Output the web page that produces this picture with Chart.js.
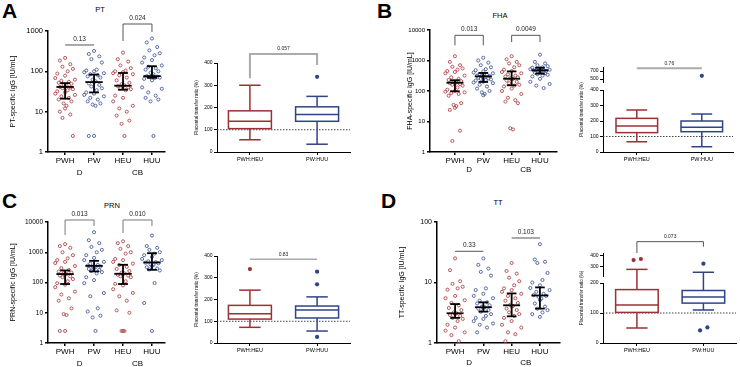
<!DOCTYPE html>
<html>
<head>
<meta charset="utf-8">
<script src="https://cdn.jsdelivr.net/npm/chart.js@4.4.1/dist/chart.umd.min.js"></script>
<style>
  body { margin: 0; width: 740px; height: 367px; background: #fff; position: relative; overflow: hidden;
         font-family: "Liberation Sans", Arial, sans-serif; color: #000; }
  canvas { position: absolute; }
  .letter { position: absolute; font-weight: bold; font-size: 21px; line-height: 1; color: #000; }
  .title { position: absolute; font-size: 7.5px; line-height: 1; color: #000; transform: translate(-50%, -50%); }
</style>
</head>
<body>
<div class="letter" style="left:2px;top:0px">A</div>
<div class="letter" style="left:377px;top:0px">B</div>
<div class="letter" style="left:2px;top:190px">C</div>
<div class="letter" style="left:381px;top:190px">D</div>
<div class="title" style="left:100px;top:10px">PT</div>
<div class="title" style="left:500px;top:16px">FHA</div>
<div class="title" style="left:112px;top:206px">PRN</div>
<div class="title" style="left:498px;top:203px">TT</div>

<canvas id="dotA" width="180" height="182" style="left:0;top:0"></canvas>
<canvas id="boxA" width="175" height="130" style="left:185px;top:40px"></canvas>
<canvas id="dotB" width="195" height="182" style="left:370px;top:0"></canvas>
<canvas id="boxB" width="170" height="125" style="left:570px;top:45px"></canvas>
<canvas id="dotC" width="180" height="182" style="left:0;top:185px"></canvas>
<canvas id="boxC" width="175" height="135" style="left:185px;top:225px"></canvas>
<canvas id="dotD" width="195" height="182" style="left:370px;top:185px"></canvas>
<canvas id="boxD" width="170" height="135" style="left:570px;top:225px"></canvas>

<script>
const FONT = '"Liberation Sans", Arial, sans-serif';
Chart.defaults.font.family = FONT;
Chart.defaults.color = '#000';

const GROUPS = ['PWH', 'PW', 'HEU', 'HUU'];
const BIRTH = ['D', 'CB'];
const RATIO_GROUPS = ['PWH:HEU', 'PW:HUU'];

// ---- PT ----
const PT_PWH = [215, 185, 150, 130, 115, 100, 88, 78, 68, 62, 58, 55, 52, 49, 46, 44, 42, 41, 40, 38, 36, 34, 32, 30, 28, 26, 24, 22, 20, 18, 16, 14, 12, 10, 8.5, 7, 2.5];
const PT_PW = [320, 270, 235, 200, 165, 110, 105, 100, 95, 90, 85, 80, 75, 70, 62, 57, 54, 50, 46, 42, 38, 34, 30, 28, 26, 24, 22, 20, 18, 16, 15, 14, 2.5, 2.5];
const PT_HEU = [290, 200, 175, 140, 120, 105, 100, 95, 90, 85, 80, 70, 60, 52, 48, 45, 44, 43, 40, 38, 36, 34, 25, 22, 18, 14, 12, 10, 8, 6, 5, 2.5];
const PT_HUU = [650, 520, 400, 330, 280, 250, 220, 190, 165, 140, 130, 120, 110, 100, 92, 85, 80, 76, 74, 72, 70, 68, 65, 60, 40, 37, 30, 25, 22, 20, 18, 2.5];
const PT_MEDIAN = [41, 54, 44, 76];
const PT_Q1 = [21, 30, 35, 69];
const PT_Q3 = [51, 83, 91, 134];
const PT_P = ['0.13', '0.024'];
// placental transfer ratio (%): min, q1, median, q3, max
const PT_RATIO_PWH_HEU = [55, 105, 138, 185, 300];
const PT_RATIO_PW_HUU = [35, 138, 168, 203, 250];
const PT_RATIO_OUT = [[], [338]];
const PT_RATIO_P = '0.057';

// ---- FHA ----
const FHA_PWH = [1380, 900, 700, 620, 550, 500, 450, 420, 380, 320, 280, 250, 230, 210, 200, 190, 185, 180, 170, 160, 150, 130, 110, 100, 95, 90, 85, 80, 70, 40, 35, 32, 28, 24, 5, 2.3];
const FHA_PW = [1230, 1000, 850, 700, 600, 520, 480, 440, 400, 380, 360, 340, 320, 310, 300, 290, 280, 270, 260, 250, 240, 230, 220, 200, 190, 180, 160, 140, 120, 100, 90, 80, 72];
const FHA_HEU = [1380, 1100, 900, 800, 700, 600, 500, 450, 420, 380, 350, 320, 300, 280, 260, 250, 240, 220, 200, 180, 160, 150, 140, 120, 100, 80, 60, 50, 45, 40, 6, 5.5];
const FHA_HUU = [1550, 900, 800, 700, 650, 600, 580, 550, 520, 500, 490, 480, 470, 460, 450, 440, 420, 400, 380, 360, 340, 320, 300, 250, 200, 170, 150, 125];
const FHA_MEDIAN = [187, 303, 253, 477];
const FHA_Q1 = [98, 198, 154, 370];
const FHA_Q3 = [225, 390, 440, 580];
const FHA_P = ['0.013', '0.0049'];
const FHA_RATIO_PWH_HEU = [66, 125, 168, 217, 271];
const FHA_RATIO_PW_HUU = [34, 131, 159, 200, 245];
const FHA_RATIO_OUT = [[], [580]];
const FHA_RATIO_P = '0.76';

// ---- PRN ----
const PRN_PWH = [1850, 1600, 1400, 1000, 800, 630, 550, 480, 440, 350, 300, 260, 230, 210, 200, 190, 180, 170, 160, 150, 130, 110, 95, 85, 70, 50, 40, 30, 25, 14, 9, 8.4, 2.5, 2.5];
const PRN_PW = [4600, 2500, 2000, 1500, 1200, 1000, 800, 650, 550, 480, 420, 380, 360, 340, 330, 320, 300, 280, 260, 240, 220, 200, 150, 120, 95, 45, 35, 14, 11, 8, 7, 2.5];
const PRN_HEU = [2300, 2000, 1600, 1300, 1000, 900, 600, 550, 480, 420, 380, 330, 280, 240, 210, 200, 190, 180, 170, 160, 150, 110, 90, 80, 60, 45, 35, 25, 12, 10, 2.5, 2.5, 2.5];
const PRN_HUU = [3560, 1600, 1400, 1200, 1000, 900, 800, 700, 600, 550, 500, 470, 450, 430, 400, 380, 350, 320, 290, 270, 250, 96, 21, 2.5];
const PRN_MEDIAN = [190, 355, 194, 460];
const PRN_Q1 = [89, 233, 89, 263];
const PRN_Q3 = [250, 520, 385, 930];
const PRN_P = ['0.013', '0.010'];
const PRN_RATIO_PWH_HEU = [72, 110, 135, 173, 243];
const PRN_RATIO_PW_HUU = [55, 115, 152, 170, 212];
const PRN_RATIO_OUT = [[340], [328, 270, 28]];
const PRN_RATIO_P = '0.83';

// ---- TT ----
const TT_PWH = [25, 16, 10.5, 9.5, 8.5, 8, 7.6, 6, 5.5, 5.1, 4.6, 4.2, 3.8, 3.5, 3.2, 3.1, 3.0, 2.9, 2.8, 2.6, 2.5, 2.3, 2.0, 1.8, 1.6, 1.5, 1.35, 1.07];
const TT_PW = [25, 19.6, 17, 15, 13, 8, 7.5, 6.5, 6, 5.5, 5.0, 4.7, 4.5, 4.2, 4.0, 3.9, 3.8, 3.7, 3.5, 3.3, 3.0, 2.8, 2.6, 2.5, 2.3, 2.1, 2.0, 1.8, 1.5];
const TT_HEU = [21, 15.5, 14, 12, 10.5, 9, 8, 7.5, 7, 6.5, 6, 5.5, 5, 4.6, 4.3, 4.1, 4.0, 3.7, 3.5, 3.2, 3.0, 2.8, 2.6, 2.3, 2.0, 1.8, 1.5, 1.4, 1.07];
const TT_HUU = [43, 24, 22, 21, 14.4, 11, 10, 9, 8.1, 7.5, 7, 6.5, 6.2, 6, 5.8, 5.4, 5.1, 4.5, 4.0, 3.7, 3.5, 3.2, 3.0, 2.7];
const TT_MEDIAN = [3.1, 3.9, 4.2, 6.1];
const TT_Q1 = [2.6, 3.3, 2.76, 3.7];
const TT_Q3 = [4.4, 4.7, 6.6, 8.3];
const TT_P = ['0.33', '0.103'];
const TT_RATIO_PWH_HEU = [50, 102, 127, 178, 275];
const TT_RATIO_PW_HUU = [110, 133, 153, 175, 248];
const TT_RATIO_OUT = [[362, 372], [328, 42, 52]];
const TT_RATIO_P = '0.073';

// horizontal spread of the dots inside a column (category units)
const JITTER = [0, -0.18, 0.18, -0.09, 0.27, 0.09, -0.27, 0, -0.34, 0.34, -0.13, 0.13, -0.22, 0.22, -0.05, 0.05];

const RED = '#b04a4d';
const BLUE = '#4b5d9d';
const BOX_RED = '#9c3034';
const BOX_BLUE = '#2f4487';

function seg(ctx, x1, y1, x2, y2) {
  ctx.beginPath();
  ctx.moveTo(x1, y1);
  ctx.lineTo(x2, y2);
  ctx.stroke();
}

function drawBrackets(ctx, x, yp, list) {
  list.forEach(b => {
    const X1 = x.getPixelForValue(b.x1), X2 = x.getPixelForValue(b.x2), Y = yp(b.y);
    ctx.strokeStyle = b.color;
    ctx.lineWidth = b.width;
    ctx.beginPath();
    if (b.legs) {
      ctx.moveTo(X1, yp(b.legs[0]));
      ctx.lineTo(X1, Y);
      ctx.lineTo(X2, Y);
      ctx.lineTo(X2, yp(b.legs[1]));
    } else {
      ctx.moveTo(X1, Y);
      ctx.lineTo(X2, Y);
    }
    ctx.stroke();
    ctx.fillStyle = '#222';
    ctx.font = b.size + 'px ' + FONT;
    ctx.textAlign = 'center';
    ctx.textBaseline = 'bottom';
    ctx.fillText(b.text, (X1 + X2) / 2, Y - 2.5);
  });
}

function dotAnnot(med, q1, q3, brackets, birthDy) {
  return {
    id: 'dotAnnot',
    afterDatasetsDraw(chart) {
      const { ctx, chartArea: a, scales: { x, y } } = chart;
      ctx.save();
      ctx.strokeStyle = '#000';
      ctx.lineWidth = 1.8;
      med.forEach((m, i) => {
        const cx = x.getPixelForValue(i + 1);
        const hw = x.getPixelForValue(i + 1.3) - cx;
        const cw = x.getPixelForValue(i + 1.17) - cx;
        const ym = y.getPixelForValue(m), y1 = y.getPixelForValue(q1[i]), y3 = y.getPixelForValue(q3[i]);
        seg(ctx, cx - hw, ym, cx + hw, ym);
        seg(ctx, cx, y1, cx, y3);
        seg(ctx, cx - cw, y1, cx + cw, y1);
        seg(ctx, cx - cw, y3, cx + cw, y3);
      });
      drawBrackets(ctx, x, v => y.getPixelForValue(v), brackets);
      ctx.fillStyle = '#000';
      ctx.font = '8px ' + FONT;
      ctx.textAlign = 'center';
      ctx.textBaseline = 'middle';
      BIRTH.forEach((t, k) => ctx.fillText(t, x.getPixelForValue(1.5 + 2 * k), a.bottom + birthDy));
      ctx.restore();
    }
  };
}

function dotChart(id, groups, med, q1, q3, cfg) {
  const datasets = groups.map((vals, g) => ({
    data: vals.map((v, i) => ({ x: g + 1 + JITTER[i % JITTER.length], y: v })),
    pointRadius: 1.55,
    pointBorderWidth: 0.9,
    pointBorderColor: g % 2 ? BLUE : RED,
    pointBackgroundColor: 'rgba(255,255,255,0)',
    clip: false
  }));
  new Chart(document.getElementById(id), {
    type: 'scatter',
    data: { datasets },
    options: {
      responsive: false,
      animation: false,
      events: [],
      layout: { padding: { top: cfg.top, right: cfg.right, left: 0, bottom: 0 } },
      plugins: { legend: { display: false }, tooltip: { enabled: false } },
      scales: {
        x: {
          type: 'linear', min: cfg.xmin, max: cfg.xmax,
          afterBuildTicks: s => { s.ticks = [1, 2, 3, 4].map(v => ({ value: v })); },
          afterFit: s => { s.height = cfg.bottom; },
          ticks: { callback: (v, i) => GROUPS[i], font: { size: 8 }, padding: 1, maxRotation: 0 },
          grid: { drawOnChartArea: false, color: '#000', lineWidth: 1.5, tickLength: 3 },
          border: { color: '#000', width: 1.5 }
        },
        y: {
          type: 'logarithmic', min: 1, max: cfg.ymax,
          afterBuildTicks: s => { s.ticks = cfg.yticks.map(v => ({ value: v })); },
          afterFit: s => { s.width = cfg.left; },
          ticks: { callback: v => String(v), font: { size: cfg.tickSize }, padding: 2 },
          grid: { drawOnChartArea: false, color: '#000', lineWidth: 1.5, tickLength: 3 },
          border: { color: '#000', width: 1.5 },
          title: { display: true, text: cfg.ytitle, font: { size: 7 }, padding: { top: cfg.titleX - 4, bottom: 0 } }
        }
      }
    },
    plugins: [dotAnnot(med, q1, q3, cfg.brackets, cfg.birthDy)]
  });
}

function boxAnnot(stats, cfg) {
  const colors = [BOX_RED, BOX_BLUE];
  return {
    id: 'boxAnnot',
    beforeDatasetsDraw(chart) {
      const { ctx, chartArea: a } = chart;
      const yp = v => cfg.yp(chart, v);
      ctx.save();
      ctx.strokeStyle = '#444';
      ctx.lineWidth = 1;
      ctx.setLineDash([1.5, 1.5]);
      seg(ctx, a.left, yp(100), a.right, yp(100));
      ctx.restore();
    },
    afterDatasetsDraw(chart) {
      const { ctx, chartArea: a, scales: { x } } = chart;
      const yp = v => cfg.yp(chart, v);
      ctx.save();
      ctx.lineWidth = 1.5;
      stats.forEach((s, i) => {
        const cx = x.getPixelForValue(i + 1);
        const bw = x.getPixelForValue(i + 1.32) - cx;
        const cw = x.getPixelForValue(i + 1.16) - cx;
        const [mn, lo, md, hi, mx] = s.map(yp);
        ctx.strokeStyle = colors[i];
        ctx.strokeRect(cx - bw, hi, 2 * bw, lo - hi);
        seg(ctx, cx - bw, md, cx + bw, md);
        seg(ctx, cx, lo, cx, mn);
        seg(ctx, cx, hi, cx, mx);
        seg(ctx, cx - cw, mn, cx + cw, mn);
        seg(ctx, cx - cw, mx, cx + cw, mx);
      });
      drawBrackets(ctx, x, yp, [cfg.bracket]);
      // y axis title
      ctx.fillStyle = '#000';
      ctx.font = '4.6px ' + FONT;
      ctx.textAlign = 'center';
      ctx.textBaseline = 'middle';
      ctx.translate(cfg.titleX, (a.top + a.bottom) / 2);
      ctx.rotate(-Math.PI / 2);
      ctx.fillText('Placental transfer ratio (%)', 0, 0);
      ctx.restore();
    }
  };
}

function axisY(extra) {
  return Object.assign({
    type: 'linear', position: 'left',
    ticks: { font: { size: 5 }, padding: 1.5 },
    grid: { drawOnChartArea: false, color: '#000', lineWidth: 1, tickLength: 3 },
    border: { color: '#000', width: 1 }
  }, extra);
}

function boxChart(id, stats, outliers, cfg) {
  const split = cfg.broken ? cfg.broken.split : Infinity;
  const datasets = [];
  outliers.forEach((vals, g) => {
    const dx = cfg.outDx[g];
    vals.forEach((v, i) => {
      datasets.push({
        data: [{ x: g + 1 + dx[i], y: v }],
        yAxisID: v > split ? 'yTop' : 'y',
        pointRadius: 2.1, pointBorderWidth: 0,
        pointBackgroundColor: g ? BOX_BLUE : BOX_RED, clip: false
      });
    });
  });
  const W = cfg.left;
  const scales = {
    x: {
      type: 'linear', min: cfg.xmin, max: cfg.xmax,
      afterBuildTicks: s => { s.ticks = [1, 2].map(v => ({ value: v })); },
      afterFit: s => { s.height = cfg.bottom; },
      ticks: { callback: (v, i) => RATIO_GROUPS[i], font: { size: 5.5 }, padding: 1, maxRotation: 0 },
      grid: { drawOnChartArea: false, color: '#000', lineWidth: 1, tickLength: 3 },
      border: { color: '#000', width: 1 }
    }
  };
  if (cfg.broken) {
    const b = cfg.broken;
    scales.y = axisY({ min: 0, max: b.lowMax, stack: 'v', stackWeight: b.weights[2],
      afterBuildTicks: s => { s.ticks = b.lowTicks.map(v => ({ value: v })); },
      afterFit: s => { s.width = W; } });
    scales.yGap = axisY({ min: 0, max: 1, stack: 'v', stackWeight: b.weights[1],
      ticks: { display: false }, grid: { display: false }, border: { display: false },
      afterFit: s => { s.width = W; } });
    scales.yTop = axisY({ min: b.topMin, max: b.topMax, stack: 'v', stackWeight: b.weights[0],
      afterBuildTicks: s => { s.ticks = b.topTicks.map(v => ({ value: v })); },
      afterFit: s => { s.width = W; } });
  } else {
    scales.y = axisY({ min: 0, max: 400,
      afterBuildTicks: s => { s.ticks = [0, 100, 200, 300, 400].map(v => ({ value: v })); },
      afterFit: s => { s.width = W; } });
  }
  cfg.yp = (chart, v) => v > split ? chart.scales.yTop.getPixelForValue(v) : chart.scales.y.getPixelForValue(v);
  new Chart(document.getElementById(id), {
    type: 'scatter',
    data: { datasets },
    options: {
      responsive: false,
      animation: false,
      events: [],
      layout: { padding: { top: cfg.top, right: cfg.right, left: 0, bottom: 0 } },
      plugins: { legend: { display: false }, tooltip: { enabled: false } },
      scales
    },
    plugins: [boxAnnot(stats, cfg)]
  });
}

const DARK = '#555';
const LIGHT = '#aaa';

// ---- panel A ----
dotChart('dotA', [PT_PWH, PT_PW, PT_HEU, PT_HUU], PT_MEDIAN, PT_Q1, PT_Q3, {
  top: 31, right: 15, left: 48, bottom: 30, xmin: 0.41, xmax: 4.45, tickSize: 7.5,
  ymax: 1000, yticks: [1, 10, 100, 1000], ytitle: 'PT-specific IgG [IU/mL]', titleX: 13, birthDy: 21,
  brackets: [
    { x1: 1, x2: 2, y: 450, legs: null, text: PT_P[0], color: DARK, width: 1, size: 6.5 },
    { x1: 3, x2: 4, y: 1490, legs: [565, 945], text: PT_P[1], color: DARK, width: 1, size: 6.5 }
  ]
});
boxChart('boxA', [PT_RATIO_PWH_HEU, PT_RATIO_PW_HUU], PT_RATIO_OUT, {
  top: 23, right: 10, left: 32, bottom: 18, xmin: 0.51, xmax: 2.49, titleX: 12,
  outDx: [[0], [0]],
  bracket: { x1: 1, x2: 2, y: 440, legs: [331, 391], text: PT_RATIO_P, color: LIGHT, width: 2, size: 5 }
});

// ---- panel B ----
dotChart('dotB', [FHA_PWH, FHA_PW, FHA_HEU, FHA_HUU], FHA_MEDIAN, FHA_Q1, FHA_Q3, {
  top: 30, right: 8, left: 60, bottom: 30, xmin: 0.12, xmax: 4.6, tickSize: 6,
  ymax: 10000, yticks: [1, 10, 100, 1000, 10000], ytitle: 'FHA-specific IgG [IU/mL]', titleX: 40, birthDy: 18,
  brackets: [
    { x1: 1, x2: 2, y: 6700, legs: [3150, 3150], text: FHA_P[0], color: DARK, width: 1, size: 6.5 },
    { x1: 3, x2: 4, y: 6700, legs: [4040, 4040], text: FHA_P[1], color: DARK, width: 1, size: 6.5 }
  ]
});
boxChart('boxB', [FHA_RATIO_PWH_HEU, FHA_RATIO_PW_HUU], FHA_RATIO_OUT, {
  top: 22, right: 7, left: 33, bottom: 18, xmin: 0.48, xmax: 2.48, titleX: 12,
  outDx: [[0], [0]],
  broken: { split: 420, lowMax: 400, lowTicks: [0, 100, 200, 300, 400], topMin: 425, topMax: 800,
            topTicks: [500, 700], weights: [15, 8, 62] },
  bracket: { x1: 1, x2: 2, y: 767, legs: null, text: FHA_RATIO_P, color: LIGHT, width: 2, size: 5 }
});

// ---- panel C ----
dotChart('dotC', [PRN_PWH, PRN_PW, PRN_HEU, PRN_HUU], PRN_MEDIAN, PRN_Q1, PRN_Q3, {
  top: 37, right: 15, left: 48, bottom: 24, xmin: 0.41, xmax: 4.45, tickSize: 6.5,
  ymax: 10000, yticks: [1, 10, 100, 1000, 10000], ytitle: 'PRN-specific IgG [IU/mL]', titleX: 13, birthDy: 21,
  brackets: [
    { x1: 1, x2: 2, y: 11650, legs: [3720, 7380], text: PRN_P[0], color: '#777', width: 1, size: 6.5 },
    { x1: 3, x2: 4, y: 11650, legs: [4330, 7380], text: PRN_P[1], color: '#777', width: 1, size: 6.5 }
  ]
});
boxChart('boxC', [PRN_RATIO_PWH_HEU, PRN_RATIO_PW_HUU], PRN_RATIO_OUT, {
  top: 31, right: 10, left: 32, bottom: 17, xmin: 0.51, xmax: 2.49, titleX: 12,
  outDx: [[0], [0, 0, 0]],
  bracket: { x1: 1, x2: 2, y: 385, legs: null, text: PRN_RATIO_P, color: LIGHT, width: 1.5, size: 5 }
});

// ---- panel D ----
dotChart('dotD', [TT_PWH, TT_PW, TT_HEU, TT_HUU], TT_MEDIAN, TT_Q1, TT_Q3, {
  top: 37, right: 5, left: 67, bottom: 24, xmin: 0.36, xmax: 4.71, tickSize: 7,
  ymax: 100, yticks: [1, 10, 100], ytitle: 'TT-specific IgG [IU/mL]', titleX: 32, birthDy: 20,
  brackets: [
    { x1: 1, x2: 2, y: 32.8, legs: null, text: TT_P[0], color: DARK, width: 1, size: 6.5 },
    { x1: 3, x2: 4, y: 54.4, legs: null, text: TT_P[1], color: LIGHT, width: 2, size: 6.5 }
  ]
});
boxChart('boxD', [TT_RATIO_PWH_HEU, TT_RATIO_PW_HUU], TT_RATIO_OUT, {
  top: 28, right: 3, left: 33, bottom: 17, xmin: 0.49, xmax: 2.49, titleX: 12,
  outDx: [[-0.05, 0.06], [0, -0.05, 0.06]],
  broken: { split: 205, lowMax: 200, lowTicks: [0, 50, 100, 150, 200], topMin: 213, topMax: 428,
            topTicks: [300, 400], weights: [23, 7, 60] },
  bracket: { x1: 1, x2: 2, y: 534, legs: [428, 487], text: TT_RATIO_P, color: DARK, width: 1, size: 5 }
});
</script>
</body>
</html>
